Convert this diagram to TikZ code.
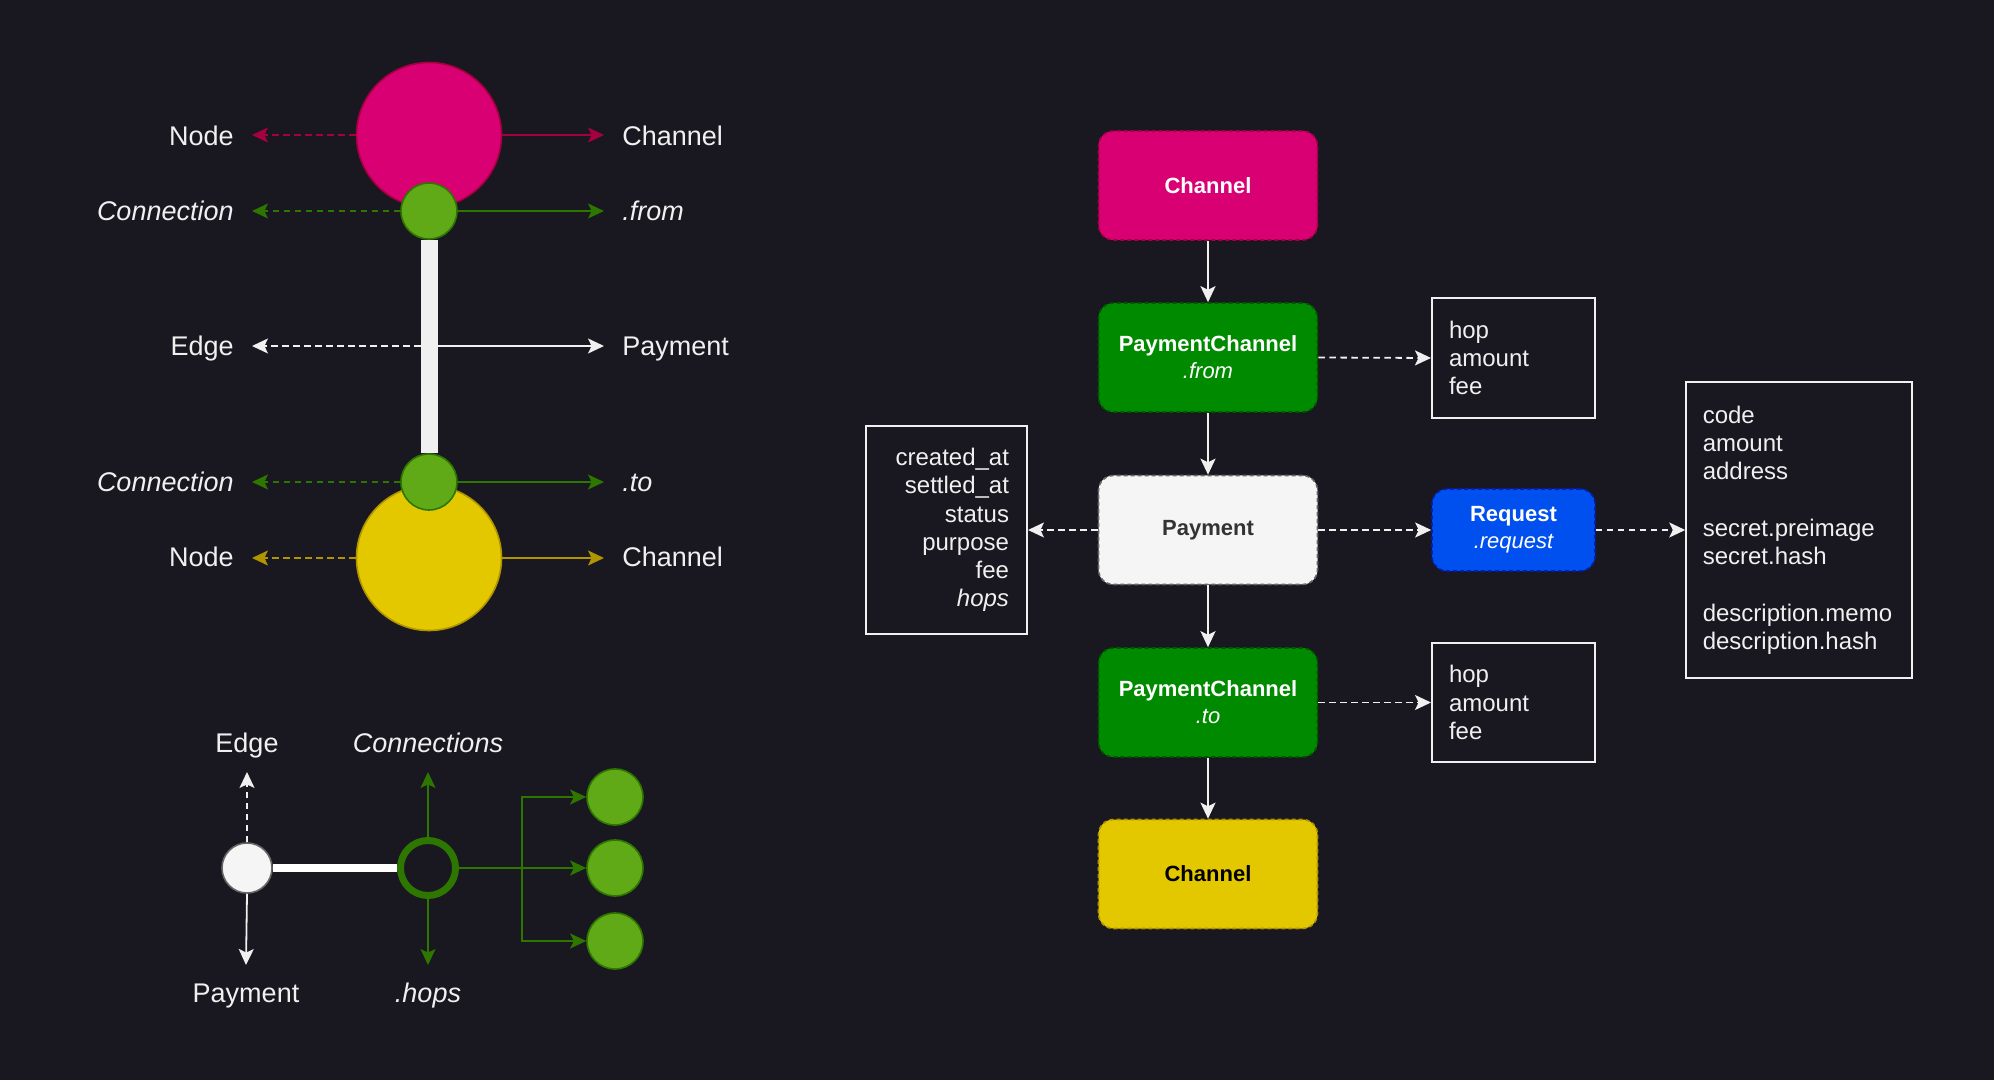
\documentclass[tikz,border=0pt]{standalone}
\usepackage{fontspec}
\setmainfont{Liberation Sans}
\usetikzlibrary{arrows.meta}
\definecolor{bg}{HTML}{19171F}
\definecolor{pinkF}{HTML}{D80073}
\definecolor{pinkD}{HTML}{A50040}
\definecolor{grnF}{HTML}{60A917}
\definecolor{grnD}{HTML}{2D7600}
\definecolor{yelF}{HTML}{E3C800}
\definecolor{yelD}{HTML}{B09500}
\definecolor{boxG}{HTML}{008A00}
\definecolor{boxGD}{HTML}{005700}
\definecolor{bluF}{HTML}{0050EF}
\definecolor{bluD}{HTML}{001DBC}
\definecolor{lite}{HTML}{F0F0F0}
\definecolor{payF}{HTML}{F5F5F5}
\definecolor{payD}{HTML}{666666}
\definecolor{payT}{HTML}{333333}
\tikzset{
  arr/.style={-{Stealth[length=8pt,width=7.5pt,inset=1.8pt]}, line width=0.9pt},
  dsh/.style={dash pattern=on 3.3pt off 2.2pt},
  lbl/.style={text=lite, font=\fontsize{13.5pt}{16pt}\selectfont, inner xsep=9pt, inner ysep=0pt},
  blbl/.style={text=lite, font=\fontsize{13.5pt}{16pt}\selectfont, inner sep=0pt, anchor=base},
  bigcirc/.style={circle, minimum size=72.5pt, inner sep=0pt, line width=0.8pt},
  smcirc/.style={circle, minimum size=28pt, inner sep=0pt, fill=grnF, draw=grnD, line width=0.8pt},
  rbox/.style={rounded corners=7.5pt, dash pattern=on 2pt off 1.5pt, line width=0.8pt,
    minimum width=109.5pt, minimum height=54.5pt, inner sep=0pt, align=center,
    font=\fontsize{11pt}{13.5pt}\selectfont\bfseries},
  tbox/.style={draw=lite, line width=1pt, text=lite, inner ysep=0pt,
    font=\fontsize{12pt}{14.15pt}\selectfont},
}
\begin{document}
\begin{tikzpicture}[x=0.5pt,y=-0.5pt]
\fill[bg] (0,0) rectangle (1994,1080);
\useasboundingbox (0,0) rectangle (1994,1080);

% ---------- left top: channel anatomy ----------
\node[bigcirc, fill=pinkF, draw=pinkD] (pinkC) at (429,135) {};
\node[bigcirc, fill=yelF, draw=yelD] (yelC) at (429,558) {};
\node[smcirc] (gTop) at (429,211) {};
\node[smcirc] (gBot) at (429,482) {};
\draw[lite, line width=8.5pt] (gTop.south) -- (gBot.north);
\coordinate (barE) at (429,346);

\node[lbl, anchor=base east] (lNode1) at (252,145.5) {Node};
\node[lbl, anchor=base east] (lConn1) at (252,220.5) {\itshape Connection};
\node[lbl, anchor=base east] (lEdge) at (252,355.5) {Edge};
\node[lbl, anchor=base east] (lConn2) at (252,491.5) {\itshape Connection};
\node[lbl, anchor=base east] (lNode2) at (252,566.5) {Node};

\node[lbl, anchor=base west] (rChan1) at (604,145.5) {Channel};
\node[lbl, anchor=base west] (rFrom) at (604,220.5) {\itshape .from};
\node[lbl, anchor=base west] (rPay) at (604,355.5) {Payment};
\node[lbl, anchor=base west] (rTo) at (604,491.5) {\itshape .to};
\node[lbl, anchor=base west] (rChan2) at (604,566.5) {Channel};

\draw[arr, pinkD, dsh] (pinkC.west) -- (pinkC.west -| lNode1.east);
\draw[arr, pinkD] (pinkC.east) -- (pinkC.east -| rChan1.west);
\draw[arr, grnD, dsh] (gTop.west) -- (gTop.west -| lConn1.east);
\draw[arr, grnD] (gTop.east) -- (gTop.east -| rFrom.west);
\draw[arr, lite, dsh] ([xshift=-4.25pt]barE) -- (barE -| lEdge.east);
\draw[arr, lite] ([xshift=4.25pt]barE) -- (barE -| rPay.west);
\draw[arr, grnD, dsh] (gBot.west) -- (gBot.west -| lConn2.east);
\draw[arr, grnD] (gBot.east) -- (gBot.east -| rTo.west);
\draw[arr, yelD, dsh] (yelC.west) -- (yelC.west -| lNode2.east);
\draw[arr, yelD] (yelC.east) -- (yelC.east -| rChan2.west);

% ---------- left bottom: payment hops ----------
\node[circle, minimum size=25pt, inner sep=0pt, fill=payF, draw=payD, line width=0.8pt] (wC) at (247,868) {};
\node[circle, minimum size=27.5pt, inner sep=0pt, draw=grnD, line width=3.5pt] (ring) at (428,868) {};
\node[smcirc] (g1) at (615,797) {};
\node[smcirc] (g2) at (615,868) {};
\node[smcirc] (g3) at (615,941) {};
\coordinate (trunk) at (522,868);
\draw[white, line width=4pt] (wC.east) -- (ring.west);

\node[blbl] (bEdge) at (247,752.5) {Edge};
\node[blbl] (bPay) at (246,1002.5) {Payment};
\node[blbl] (bConn) at (428,752.5) {\itshape Connections};
\node[blbl] (bHops) at (428,1002.5) {\itshape .hops};

\draw[arr, lite, dsh] (wC.north) -- ([yshift=-9.75pt]bEdge.base);
\draw[arr, lite] (wC.south) -- ([yshift=18.75pt]bPay.base);
\draw[arr, grnD] (ring.north) -- ([yshift=-9.75pt]bConn.base);
\draw[arr, grnD] (ring.south) -- ([yshift=18.75pt]bHops.base);
\draw[arr, grnD] (ring.east) -- (trunk) |- (g1.west);
\draw[arr, grnD] (ring.east) -- (g2.west);
\draw[arr, grnD] (ring.east) -- (trunk) |- (g3.west);

% ---------- right: object model ----------
\node[rbox, fill=pinkF, draw=pinkD, text=white] (chTop) at (1208,185.5) {Channel};
\node[rbox, fill=boxG, draw=boxGD, text=white] (pcFrom) at (1208,357.5) {PaymentChannel\\{\mdseries\itshape .from}};
\node[rbox, fill=payF, draw=payD, text=payT] (pay) at (1208,530) {Payment};
\node[rbox, fill=boxG, draw=boxGD, text=white] (pcTo) at (1208,702.5) {PaymentChannel\\{\mdseries\itshape .to}};
\node[rbox, fill=yelF, draw=yelD, text=black] (chBot) at (1208,874) {Channel};
\node[rbox, fill=bluF, draw=bluD, text=white, minimum width=81.5pt, minimum height=41pt] (req) at (1513.5,530) {Request\\{\mdseries\itshape .request}};

\node[tbox, minimum width=81.5pt, minimum height=60pt, inner xsep=8.5pt, text width=64.5pt, align=left] (hop1) at (1513.5,358) {hop\\amount\\fee};
\node[tbox, minimum width=81.5pt, minimum height=59.5pt, inner xsep=8.5pt, text width=64.5pt, align=left] (hop2) at (1513.5,702.5) {hop\\amount\\fee};
\node[tbox, minimum width=80.5pt, minimum height=104pt, inner xsep=9pt, text width=62.5pt, align=right] (created) at (946.5,530) {created\_at\\settled\_at\\status\\purpose\\fee\\\textit{hops}};
\node[tbox, minimum width=112.75pt, minimum height=148pt, inner xsep=8.25pt, text width=96.25pt, align=left] (big) at (1799,530) {code\\amount\\address\\[14.15pt]secret.preimage\\secret.hash\\[14.15pt]description.memo\\description.hash};

\draw[arr, lite] (chTop.south) -- (pcFrom.north);
\draw[arr, lite] (pcFrom.south) -- (pay.north);
\draw[arr, lite] (pay.south) -- (pcTo.north);
\draw[arr, lite] (pcTo.south) -- (chBot.north);
\draw[arr, lite, dsh] (pcFrom.east) -- (hop1.west);
\draw[arr, lite, dsh] (pcTo.east) -- (hop2.west);
\draw[arr, lite, dsh] (pay.west) -- (created.east);
\draw[arr, lite, dsh] (pay.east) -- (req.west);
\draw[arr, lite, dsh] (req.east) -- (big.west);
\end{tikzpicture}
\end{document}
